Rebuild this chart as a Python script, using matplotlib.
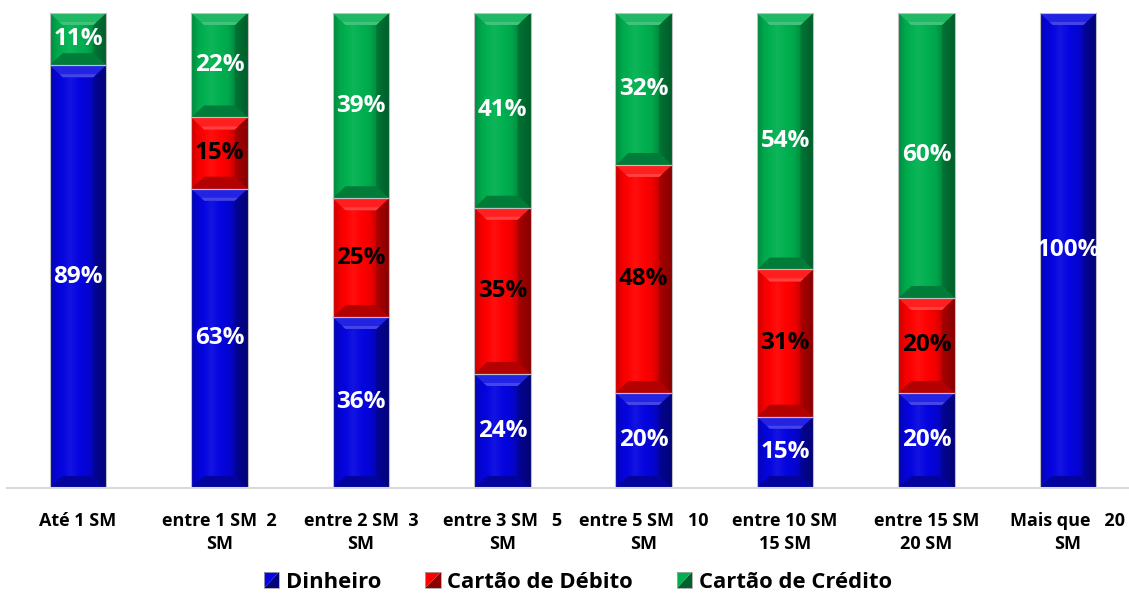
import numpy as np
import matplotlib
matplotlib.use("Agg")
import matplotlib.pyplot as plt
from matplotlib.patches import Polygon, Rectangle
from matplotlib.colors import to_rgb
from matplotlib.legend_handler import HandlerBase

plt.rcParams['font.family'] = ['Open Sans', 'DejaVu Sans']
plt.rcParams['font.weight'] = 'bold'

# faixas de renda e participação de cada meio de pagamento (%)
faixas = ['Até 1 SM', 'entre 1 SM  2\nSM', 'entre 2 SM  3\nSM', 'entre 3 SM   5\nSM',
          'entre 5 SM   10\nSM', 'entre 10 SM\n15 SM', 'entre 15 SM\n20 SM', 'Mais que   20\nSM']
dinheiro = [89, 63, 36, 24, 20, 15, 20, 100]
debito = [0, 15, 25, 35, 48, 31, 20, 0]
credito = [11, 22, 39, 41, 32, 54, 60, 0]

series = [
    ('Dinheiro', dinheiro, '#0505E0', 'white'),
    ('Cartão de Débito', debito, '#FF0000', 'black'),
    ('Cartão de Crédito', credito, '#00B050', 'white'),
]


def mix(c, other, t):
    c = np.array(to_rgb(c))
    return tuple(c * (1 - t) + np.array(other) * t)


def bevel(ax, patch, color, px_x, px_y):
    x0, y0 = patch.get_x(), patch.get_y()
    w, h = patch.get_width(), patch.get_height()
    x1, y1 = x0 + w, y0 + h
    bx = min(px_x, w / 2)
    by = min(px_y, h / 2.2)

    # horizontal shading across the bar body
    t = np.linspace(0, 1, 64)
    shade = np.interp(t, [0, 0.12, 0.35, 0.65, 0.85, 1.0], [-0.22, -0.05, 0.06, -0.05, -0.3, -0.45])
    base = np.array(to_rgb(color))
    img = np.zeros((1, len(t), 3))
    for i, s in enumerate(shade):
        img[0, i] = base * (1 + s) if s < 0 else base + (1 - base) * s
    im = ax.imshow(img, extent=(x0, x1, y0, y1), aspect='auto', zorder=2.1,
                   interpolation='bilinear')
    im.set_clip_path(patch)

    top = Polygon([(x0, y1), (x1, y1), (x1 - bx, y1 - by), (x0 + bx, y1 - by)],
                  closed=True, facecolor=mix(color, (1, 1, 1), 0.12), edgecolor='none', zorder=2.2)
    hi = Polygon([(x0 + bx * 0.75, y1 - by * 0.75), (x1 - bx * 0.75, y1 - by * 0.75),
                  (x1 - bx, y1 - by), (x0 + bx, y1 - by)],
                 closed=True, facecolor=mix(color, (1, 1, 1), 0.25), edgecolor='none', zorder=2.25)
    bot = Polygon([(x0, y0), (x1, y0), (x1 - bx, y0 + by), (x0 + bx, y0 + by)],
                  closed=True, facecolor=mix(color, (0, 0, 0), 0.3), edgecolor='none', zorder=2.2)
    right = Polygon([(x1, y0), (x1, y1), (x1 - bx, y1 - by), (x1 - bx, y0 + by)],
                    closed=True, facecolor=mix(color, (0, 0, 0), 0.5), edgecolor='none',
                    alpha=0.4, zorder=2.15)
    for p in (top, hi, bot, right):
        ax.add_patch(p)
    ax.add_patch(Rectangle((x0, y0), w, h, fill=False, edgecolor='#BFBFBF',
                           linewidth=0.8, zorder=2.3))


class BevelSquare(HandlerBase):
    def __init__(self, color):
        super().__init__()
        self.color = color

    def create_artists(self, legend, orig_handle, xdescent, ydescent, width, height, fontsize, trans):
        s = height * 1.0
        x0 = -xdescent + width - s
        y0 = -ydescent + (height - s) / 2
        light = Polygon([(x0, y0), (x0, y0 + s), (x0 + s, y0 + s)], closed=True,
                        facecolor=self.color, edgecolor='none', transform=trans)
        dark = Polygon([(x0, y0), (x0 + s, y0), (x0 + s, y0 + s)], closed=True,
                       facecolor=mix(self.color, (0, 0, 0), 0.45), edgecolor='none', transform=trans)
        frame = Rectangle((x0, y0), s, s, fill=False, edgecolor='#A6A6A6', linewidth=0.6, transform=trans)
        return [dark, light, frame]


fig = plt.figure(figsize=(11.29, 5.93), dpi=100)
ax = fig.add_axes([0.0065, 0.1771, 1.0021, 0.8010])

x = np.arange(len(faixas))
width = 0.4
ax.set_xlim(-0.5, len(faixas) - 0.5)
ax.set_ylim(0, 100)

pos = ax.get_position()
px_per_x = fig.get_figwidth() * fig.dpi * pos.width / (len(faixas))
px_per_y = fig.get_figheight() * fig.dpi * pos.height / 100
bev_x = 13 / px_per_x
bev_y = 12 / px_per_y

bottom = np.zeros(len(faixas))
handles = []
handler_map = {}
for name, vals, color, txt in series:
    vals = np.array(vals, dtype=float)
    bars = ax.bar(x, vals, width, bottom=bottom, color=color, edgecolor='none', zorder=2, label=name)
    for b, v, b0 in zip(bars, vals, bottom):
        if v <= 0:
            continue
        bevel(ax, b, color, bev_x, bev_y)
        ax.text(b.get_x() + b.get_width() / 2, b0 + v / 2, f'{v:.0f}%', ha='center', va='center',
                fontsize=17.5, fontweight='bold', color=txt, zorder=3)
    bottom += vals
    h = Rectangle((0, 0), 1, 1, color=color)
    handles.append(h)
    handler_map[h] = BevelSquare(color)

ax.set_xticks(x)
ax.set_xticklabels(faixas, fontsize=13, fontweight='bold', linespacing=1.4)
ax.tick_params(axis='x', length=0, pad=17)
ax.set_yticks([])
for side in ('top', 'right', 'left'):
    ax.spines[side].set_visible(False)
ax.spines['bottom'].set_color('#D9D9D9')
ax.spines['bottom'].set_linewidth(1.5)

fig.legend(handles, [s[0] for s in series], handler_map=handler_map, loc='center',
           bbox_to_anchor=(0.512, 0.0185), ncol=3, frameon=False,
           prop={'size': 15.8, 'weight': 'bold'}, handlelength=0.7, handleheight=0.7,
           handletextpad=0.3, columnspacing=2.0)

fig.savefig('out.png', dpi=100)
